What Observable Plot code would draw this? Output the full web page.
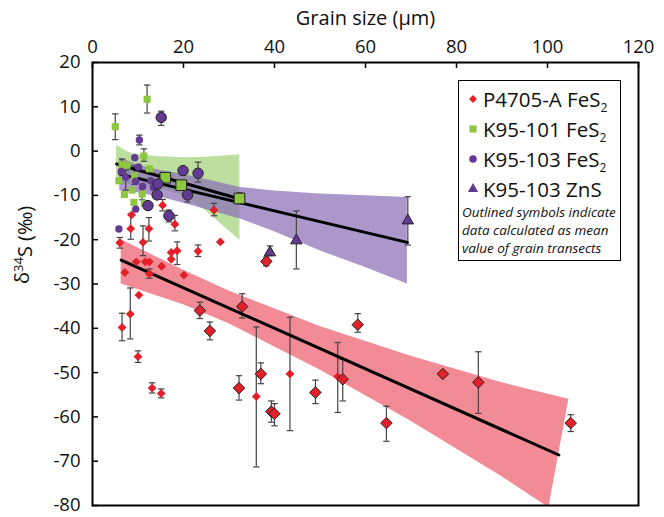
<!DOCTYPE html>
<html><head><meta charset="utf-8">
<script src="https://cdn.jsdelivr.net/npm/d3@7"></script>
<script src="https://cdn.jsdelivr.net/npm/@observablehq/plot@0.6"></script>
<style>
body{margin:0;background:#fff;font-family:"Open Sans",sans-serif;}
#wrap{position:relative;width:664px;height:517px;}
#legend{position:absolute;left:458px;top:80px;width:163px;height:181px;border:1.5px solid #000;box-sizing:border-box;background:#fff;color:#111;}
#legend .row{position:absolute;left:0;height:24px;line-height:24px;font-size:20.5px;white-space:nowrap;}
#legend .row svg{position:absolute;left:7px;top:5px;}
#legend .row span{position:absolute;left:24px;top:0;}
#legend sub{font-size:12px;vertical-align:-5px;line-height:0;}
#legend .note{position:absolute;left:3px;top:122px;font-size:13.5px;line-height:18px;font-style:italic;white-space:nowrap;}
</style></head><body><div id="wrap"></div>
<script>
// ---------- axes ----------
const xTicks = [0, 20, 40, 60, 80, 100, 120];
const yTicks = [20, 10, 0, -10, -20, -30, -40, -50, -60, -70, -80];
const xTitle = "Grain size (µm)";
const yTitle = "δ34S (‰)";

// ---------- P4705-A FeS2 : single analyses (filled) ----------
const redX  = [6.0, 7.1, 8.3, 6.5, 10.2, 10.0, 9.6, 11.6, 12.5, 12.5, 11.1, 8.4, 8.6, 12.4, 15.4, 18.1, 15.2, 17.3, 18.6, 17.3, 20.1, 23.2, 26.7, 28.1, 36.0, 13.1, 15.1, 43.4, 53.9];
const redY  = [-20.7, -27.4, -36.8, -39.8, -32.5, -46.4, -25.0, -25.0, -25.0, -27.7, -20.6, -17.5, -14.4, -17.5, -12.2, -16.5, -26.0, -22.9, -22.5, -24.4, -28.0, -22.6, -13.3, -20.5, -55.4, -53.5, -54.7, -50.3, -50.9];
const redLo = [-21.9, null, -42.4, -42.8, null, -47.7, null, null, null, -28.7, -23.6, -19.9, null, -20.3, -13.5, -18.0, null, null, -25.6, null, null, -23.8, -14.6, null, -71.3, -54.6, -55.7, -63.1, -59.0];
const redHi = [-19.5, null, -30.9, -36.6, null, -45.1, null, null, null, -26.6, -16.9, -14.2, null, -15.0, -10.9, -14.5, null, null, -20.5, null, null, -21.2, -11.8, null, -39.7, -52.3, -53.7, -37.5, -43.2];
// P4705-A FeS2 : grain-transect means (outlined)
const redMX  = [23.6, 25.8, 32.9, 38.2, 32.2, 37.0, 39.3, 40.0, 49.0, 58.3, 55.0, 64.6, 77.0, 84.8, 105.1];
const redMY  = [-36.0, -40.6, -35.1, -24.9, -53.5, -50.3, -58.8, -59.3, -54.5, -39.2, -51.5, -61.4, -50.3, -52.2, -61.4];
const redMLo = [-37.8, -42.6, -37.7, -25.9, -56.2, -52.5, -61.2, -62.0, -57.0, -40.9, -56.4, -65.5, null, -59.2, -63.3];
const redMHi = [-34.1, -38.6, -32.2, -23.9, -50.7, -47.8, -56.4, -57.0, -51.7, -36.7, -47.0, -57.6, null, -45.3, -59.5];

// ---------- K95-101 FeS2 ----------
const grnX  = [5.0, 12.0, 11.3, 6.5, 7.6, 5.8, 9.2, 8.7, 10.9, 9.1, 11.4, 12.5, 7.0];
const grnY  = [5.5, 11.7, -1.1, -3.0, -3.2, -6.7, -5.6, -8.8, -9.7, -11.6, -11.8, -4.0, -9.8];
const grnLo = [2.6, 8.6, -2.3, -4.3, null, null, -7.5, null, -11.0, null, null, null, null];
const grnHi = [8.4, 14.9, 0.5, -1.8, null, null, -3.3, null, -8.5, null, null, null, null];
const grnMX  = [16.0, 19.5, 32.3];
const grnMY  = [-6.0, -7.7, -10.7];
const grnMLo = [null, null, -11.9];
const grnMHi = [null, null, -9.4];

// ---------- K95-103 FeS2 ----------
const purX  = [10.3, 9.3, 10.1, 7.3, 9.5, 12.8, 13.4, 5.8, 9.5, 11.0, 6.3];
const purY  = [2.5, -1.5, -3.6, -5.9, -6.8, -6.7, -8.2, -17.6, -13.1, -8.0, -4.6];
const purLo = [1.4, null, null, -8.8, null, null, null, null, null, null, null];
const purHi = [3.6, null, null, -4.3, null, null, null, null, null, null, null];
const purMX  = [15.1, 14.4, 14.2, 12.2, 16.8, 19.9, 23.2, 20.9];
const purMY  = [7.6, -7.4, -9.9, -12.3, -14.6, -4.4, -5.0, -9.9];
const purMLo = [5.8, null, null, null, -16.0, null, -7.0, -11.5];
const purMHi = [9.0, null, null, null, -13.3, null, -2.5, -8.6];

// ---------- K95-103 ZnS ----------
const znsX  = [39.0, 44.8, 69.3];
const znsY  = [-22.9, -20.2, -15.7];
const znsLo = [-23.6, -26.6, -21.2];
const znsHi = [-21.4, -13.5, -10.3];

// ---------- regression lines ----------
const redLineX = [6.3, 102.5],  redLineY = [-24.6, -68.6];
const grnLineX = [5.3, 32.4],   grnLineY = [-2.9, -10.8];
const purLineX = [6.0, 69.2],   purLineY = [-5.2, -20.6];

// ---------- confidence bands (upper edge x/y, lower edge x/y) ----------
const redBandUX = [6.3, 20, 30, 50, 70, 90, 104.7];
const redBandUY = [-20.0, -26.9, -31.6, -39.6, -46.3, -52.3, -56.0];
const redBandLX = [6.3, 20, 30, 50, 70, 90, 100.3];
const redBandLY = [-30.0, -34.7, -39.0, -49.4, -61.0, -73.5, -80.5];

const grnBandX  = [5.3, 8, 11, 15, 20, 25, 32.4];
const grnBandU  = [1.3, -0.3, -1.0, -1.3, -1.5, -1.4, -0.8];
const grnBandL  = [-7.5, -7.5, -7.8, -8.6, -10.0, -13.5, -20.2];

const purBandX  = [6.0, 10, 15, 20, 25, 32.5, 40, 50, 60, 69.2];
const purBandU  = [-1.5, -3.2, -4.4, -5.3, -6.4, -8.2, -9.0, -9.7, -10.1, -10.5];
const purBandL  = [-9.0, -9.4, -10.4, -11.8, -13.2, -15.3, -18.2, -22.5, -26.3, -30.0];

// ---------- colours ----------
const RED = "#e3202a", GREEN = "#8dc63f", PURPLE = "#633a93";

// ---------- build tables ----------
const rows = (X, Y, Lo, Hi) => X.map((x, i) => ({x, y: Y[i], lo: Lo ? Lo[i] : null, hi: Hi ? Hi[i] : null}));
const red = rows(redX, redY, redLo, redHi), redM = rows(redMX, redMY, redMLo, redMHi);
const grn = rows(grnX, grnY, grnLo, grnHi), grnM = rows(grnMX, grnMY, grnMLo, grnMHi);
const pur = rows(purX, purY, purLo, purHi), purM = rows(purMX, purMY, purMLo, purMHi);
const zns = rows(znsX, znsY, znsLo, znsHi);
const all = [...red, ...redM, ...grn, ...grnM, ...pur, ...purM, ...zns];
const errs = all.filter(d => d.lo != null);
const caps = errs.flatMap(d => [{x: d.x, y: d.lo}, {x: d.x, y: d.hi}]);

const redBand = redBandUX.map((x, i) => ({xu: x, yu: redBandUY[i], xl: redBandLX[i], yl: redBandLY[i]}));
const grnBand = grnBandX.map((x, i) => ({x, u: grnBandU[i], l: grnBandL[i]}));
const purBand = purBandX.map((x, i) => ({x, u: purBandU[i], l: purBandL[i]}));
const line = (X, Y) => X.map((x, i) => ({x, y: Y[i]}));

const capSymbol = {draw(ctx, size) { const w = Math.sqrt(size) * 0.6; ctx.moveTo(-w, 0); ctx.lineTo(w, 0); }};

const chart = Plot.plot({
  width: 664, height: 517,
  marginLeft: 92, marginRight: 26, marginTop: 62, marginBottom: 12,
  style: {fontFamily: "'Open Sans', sans-serif", fontSize: "18.5px", color: "#111", background: "transparent", overflow: "visible"},
  x: {domain: [0, 120]},
  y: {domain: [-80, 20]},
  marks: [
    Plot.area(redBand, {x1: "xu", y1: "yu", x2: "xl", y2: "yl", fill: "#f28b95", clip: true}),
    Plot.areaY(grnBand, {x: "x", y1: "l", y2: "u", fill: "#bcdf9f"}),
    Plot.areaY(purBand, {x: "x", y1: "l", y2: "u", fill: "#8a6fb5", fillOpacity: 0.72}),
    Plot.ruleX(errs, {x: "x", y1: "lo", y2: "hi", stroke: "#444", strokeWidth: 1.2}),
    Plot.dot(caps, {x: "x", y: "y", symbol: capSymbol, r: 3, stroke: "#444", strokeWidth: 1.2, fill: "none"}),
    Plot.line(line(redLineX, redLineY), {x: "x", y: "y", stroke: "#000", strokeWidth: 3}),
    Plot.line(line(purLineX, purLineY), {x: "x", y: "y", stroke: "#000", strokeWidth: 3}),
    Plot.line(line(grnLineX, grnLineY), {x: "x", y: "y", stroke: "#000", strokeWidth: 3}),
    Plot.dot(grn, {x: "x", y: "y", symbol: "square", r: 4, fill: GREEN, stroke: "none"}),
    Plot.dot(pur, {x: "x", y: "y", symbol: "circle", r: 3.7, fill: PURPLE, stroke: "none"}),
    Plot.dot(red, {x: "x", y: "y", symbol: "diamond2", r: 4, fill: RED, stroke: "none"}),
    Plot.dot(grnM, {x: "x", y: "y", symbol: "square", r: 6, fill: GREEN, stroke: "#222", strokeWidth: 1}),
    Plot.dot(purM, {x: "x", y: "y", symbol: "circle", r: 5.2, fill: PURPLE, stroke: "#222", strokeWidth: 1}),
    Plot.dot(redM, {x: "x", y: "y", symbol: "diamond2", r: 5.2, fill: RED, stroke: "#222", strokeWidth: 1}),
    Plot.dot(zns, {x: "x", y: "y", symbol: "triangle", r: 4.2, fill: PURPLE, stroke: "#222", strokeWidth: 1}),
    Plot.frame({stroke: "#000", strokeWidth: 2}),
    // inward tick marks
    Plot.tickX(xTicks, {x: d => d, insetBottom: 437, stroke: "#000", strokeWidth: 1.5}),
    Plot.tickY(yTicks, {y: d => d, insetRight: 540, stroke: "#000", strokeWidth: 1.5}),
    // tick labels
    Plot.axisX(xTicks, {anchor: "top", tickSize: 0, tickPadding: 10, label: null}),
    Plot.axisY(yTicks, {anchor: "left", tickSize: 0, tickPadding: 12, tickFormat: d => String(d), label: null}),
    // axis titles
    Plot.text([xTitle], {text: d => d, frameAnchor: "top", dy: -44, fontSize: 20, lineAnchor: "middle"}),
    Plot.text([yTitle], {text: d => d, frameAnchor: "left", dx: -70, rotate: -90, fontSize: 20, lineAnchor: "middle"})
  ]
});
const wrap = document.getElementById("wrap");
wrap.appendChild(chart);

// superscript "34" in the y title
d3.select(chart).selectAll("text").filter(function() { return this.textContent === yTitle; }).each(function() {
  const t = d3.select(this);
  t.text(null);
  t.append("tspan").text("δ");
  t.append("tspan").attr("dy", "-0.45em").attr("font-size", "13px").text("34");
  t.append("tspan").attr("dy", "0.45em").text("S (‰)");
});

// ---------- legend ----------
const legendItems = [
  {sym: d3.symbolDiamond2, size: 40, fill: RED, label: "P4705-A FeS", sub: "2"},
  {sym: d3.symbolSquare, size: 50, fill: GREEN, label: "K95-101 FeS", sub: "2"},
  {sym: d3.symbolCircle, size: 45, fill: PURPLE, label: "K95-103 FeS", sub: "2"},
  {sym: d3.symbolTriangle, size: 45, fill: PURPLE, label: "K95-103 ZnS", sub: ""}
];
const leg = document.createElement("div");
leg.id = "legend";
legendItems.forEach((it, i) => {
  const row = document.createElement("div");
  row.className = "row";
  row.style.top = (6 + i * 30) + "px";
  const path = d3.symbol(it.sym, it.size)();
  row.innerHTML = `<svg width="14" height="14" viewBox="-7 -7 14 14"><path d="${path}" fill="${it.fill}"/></svg><span>${it.label}${it.sub ? "<sub>" + it.sub + "</sub>" : ""}</span>`;
  leg.appendChild(row);
});
const note = document.createElement("div");
note.className = "note";
note.innerHTML = "Outlined symbols indicate<br>data calculated as mean<br>value of grain transects";
leg.appendChild(note);
wrap.appendChild(leg);
</script></body></html>
